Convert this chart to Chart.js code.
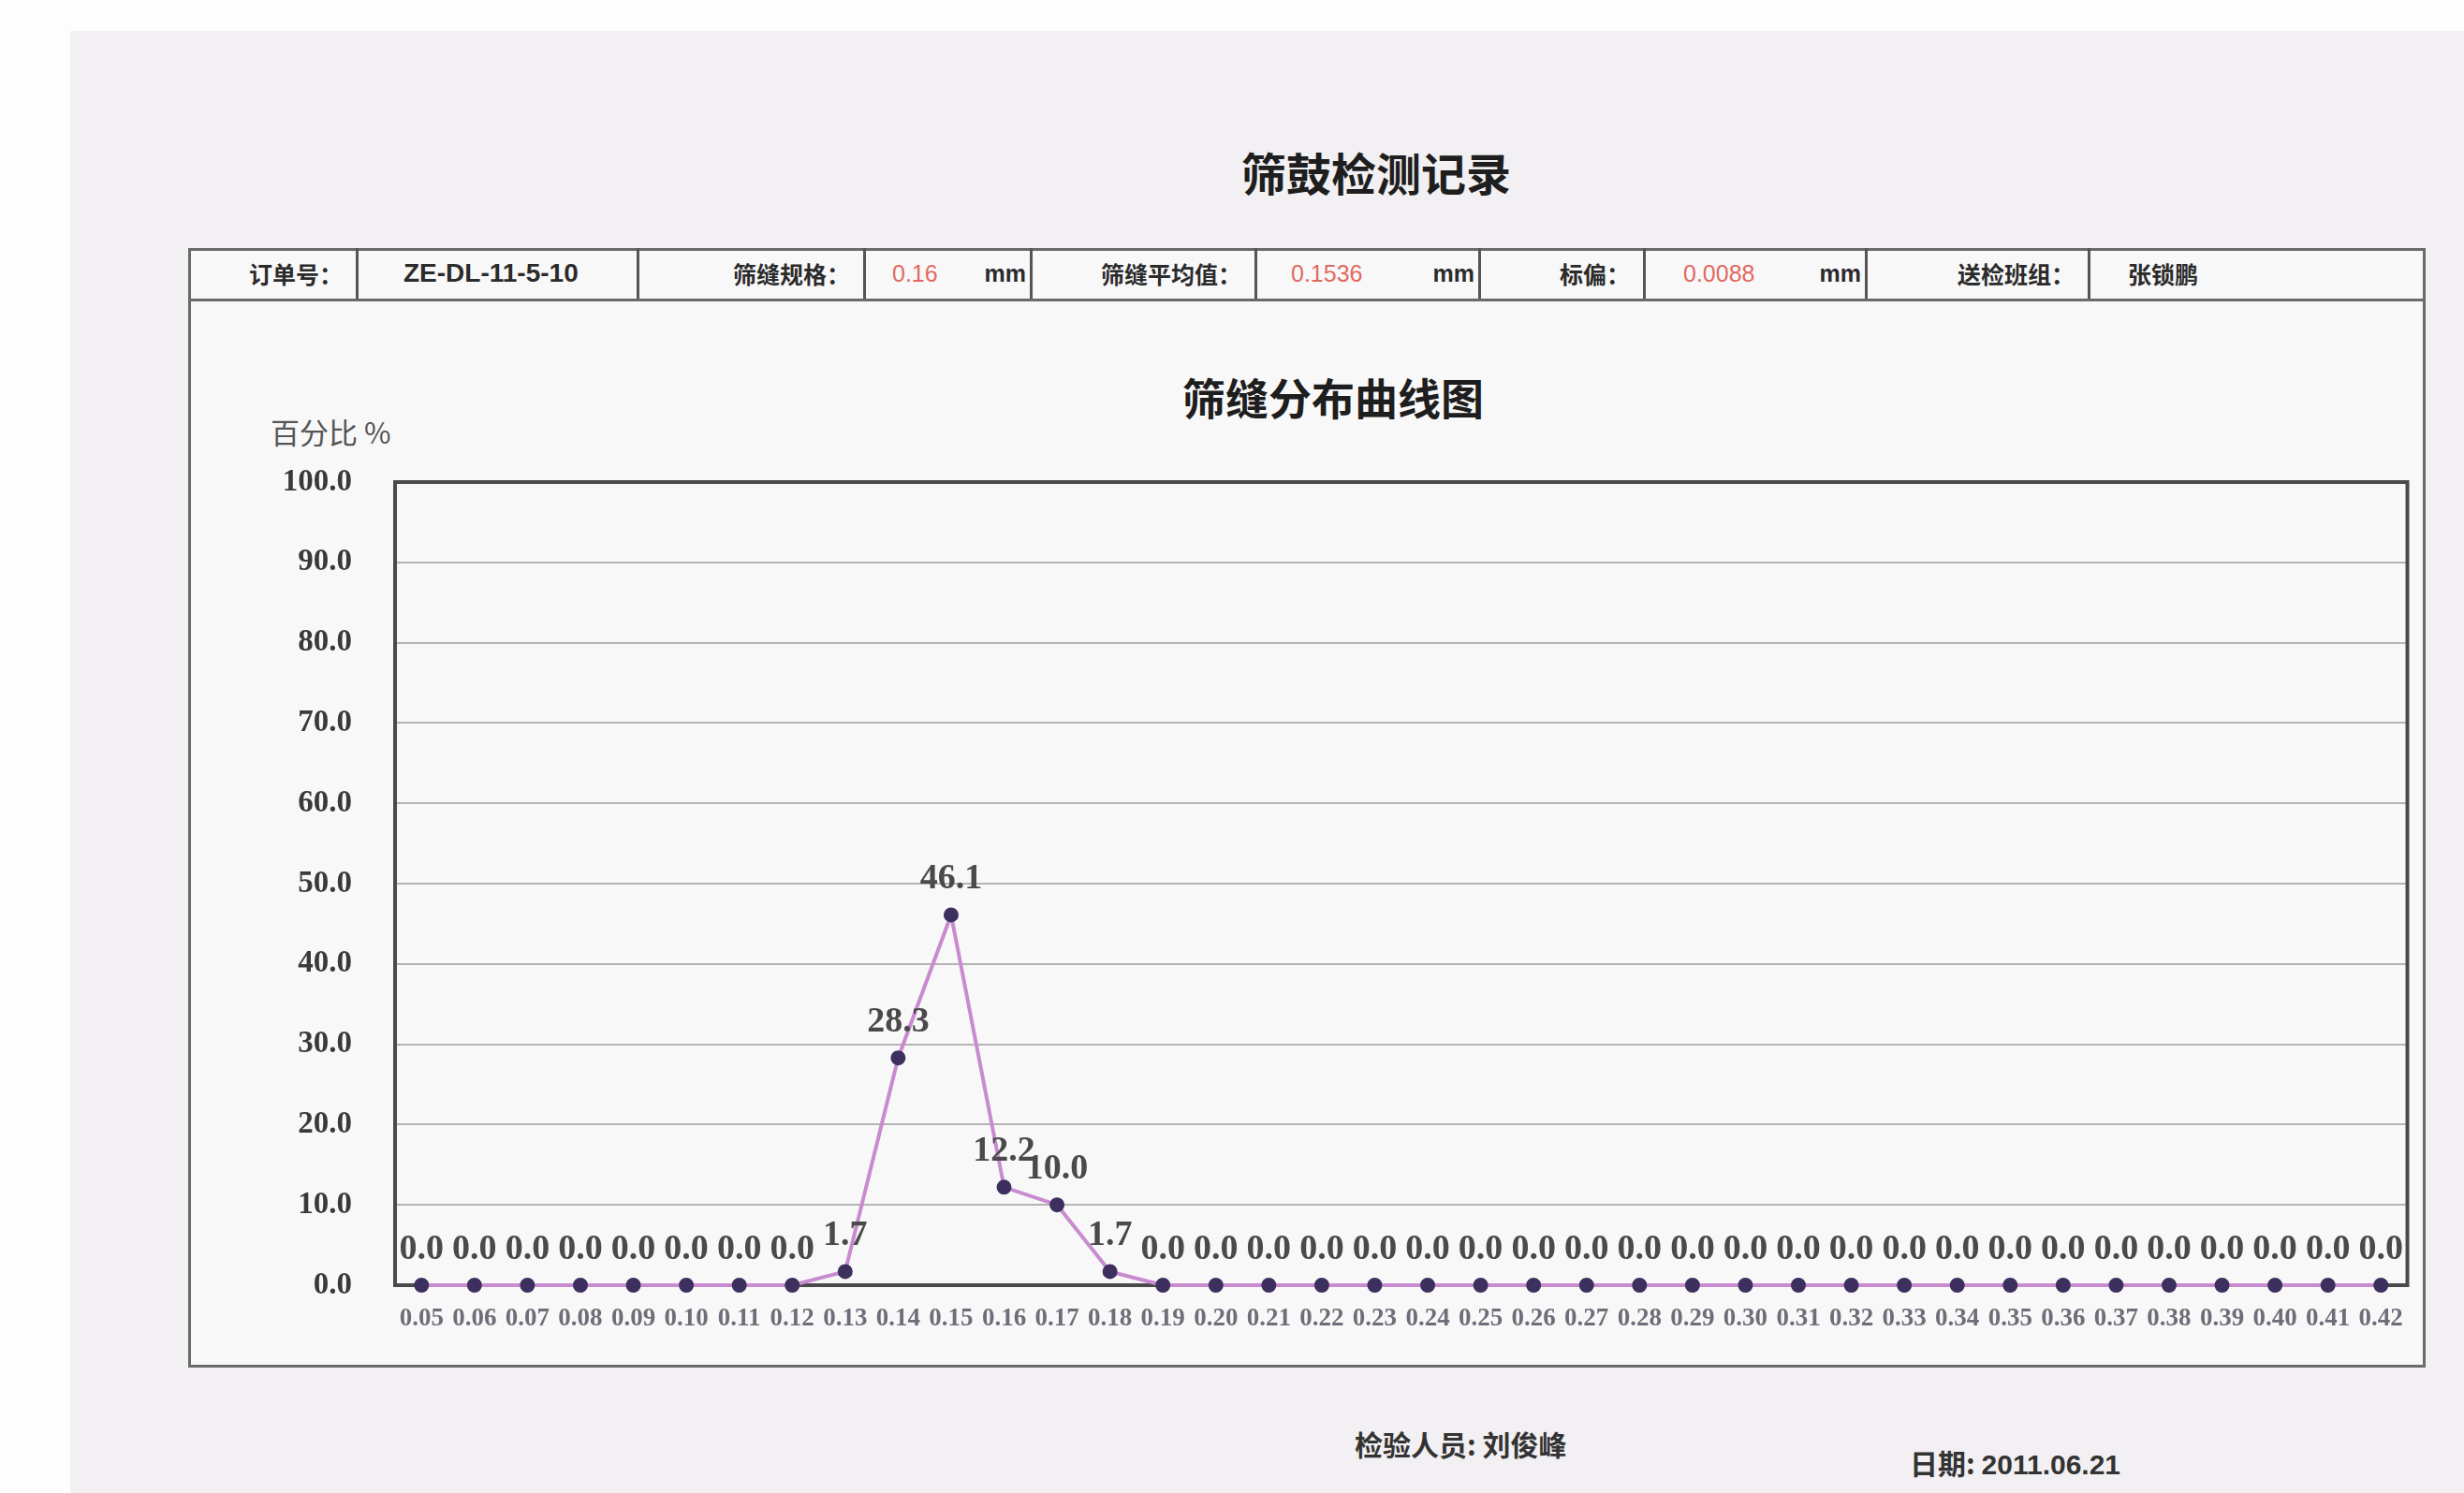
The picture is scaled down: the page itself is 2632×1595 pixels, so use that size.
<!DOCTYPE html>
<html>
<head>
<meta charset="utf-8">
<script src="https://cdn.jsdelivr.net/npm/chart.js@4.4.1/dist/chart.umd.min.js"></script>
<style>
  html, body { margin:0; padding:0; width:2632px; height:1595px; overflow:hidden; background:#fdfdfd; }
  #paper { position:absolute; left:75px; top:33px; width:2557px; height:1562px; background:#f2f0f2; }
  .t { position:absolute; white-space:nowrap; font-family:"Noto Sans CJK SC", sans-serif; color:#1e1e1e; }
  #frame { position:absolute; left:201px; top:265px; width:2384px; height:1190px; border:3px solid #6a6a6a; background:#f9f8f9; }
  #hdr { position:absolute; left:201px; top:265px; width:2390px; height:54px; display:flex; border-bottom:3px solid #6a6a6a; }
  .c { position:relative; height:54px; border-right:3px solid #555; box-sizing:border-box; font-family:"Noto Sans CJK SC", sans-serif; font-weight:700; font-size:25px; color:#2b2b2b; line-height:54px; white-space:nowrap; }
  .c:last-child { border-right:none; }
  .r { text-align:right; padding-right:14px; }
  .red { color:#e06a60; font-weight:400; font-family:"Liberation Sans", sans-serif; position:absolute; }
  .mm { position:absolute; right:4px; font-family:"Liberation Sans", sans-serif; }
  canvas { position:absolute; left:205px; top:322px; }
</style>
</head>
<body>
<div id="paper"></div>
<div class="t" style="left:1326px; top:148px; font-size:48px; font-weight:700;">筛鼓检测记录</div>
<div id="frame"></div>
<div id="hdr">
  <div class="c r" style="width:182px;">订单号：</div>
  <div class="c" style="width:300px; padding-left:48px; font-family:'Liberation Sans',sans-serif; font-size:28px;">ZE-DL-11-5-10</div>
  <div class="c r" style="width:242px;">筛缝规格：</div>
  <div class="c" style="width:178px;"><span class="red" style="left:28px;">0.16</span><span class="mm">mm</span></div>
  <div class="c r" style="width:240px;">筛缝平均值：</div>
  <div class="c" style="width:239px;"><span class="red" style="left:36px;">0.1536</span><span class="mm">mm</span></div>
  <div class="c r" style="width:176px;">标偏：</div>
  <div class="c" style="width:237px;"><span class="red" style="left:40px;">0.0088</span><span class="mm">mm</span></div>
  <div class="c r" style="width:238px;">送检班组：</div>
  <div class="c" style="width:358px; padding-left:40px;">张锁鹏</div>
</div>
<div class="t" style="left:1263px; top:390px; font-size:46px; font-weight:700;">筛缝分布曲线图</div>
<div class="t" style="left:289px; top:438px; font-size:31px; color:#555;">百分比 %</div>
<canvas id="c" width="2382" height="1135"></canvas>
<div class="t" style="left:1447px; top:1520px; font-size:30px; font-weight:700; color:#333;">检验人员: 刘俊峰</div>
<div class="t" style="left:2040px; top:1540px; font-size:30px; font-weight:700; color:#333;">日期: <span style="font-family:'Liberation Sans',sans-serif;">2011.06.21</span></div>
<script>
const sizeLabels = ['0.05','0.06','0.07','0.08','0.09','0.10','0.11','0.12','0.13','0.14',
  '0.15','0.16','0.17','0.18','0.19','0.20','0.21','0.22','0.23','0.24',
  '0.25','0.26','0.27','0.28','0.29','0.30','0.31','0.32','0.33','0.34',
  '0.35','0.36','0.37','0.38','0.39','0.40','0.41','0.42'];
const percentValues = [0,0,0,0,0,0,0,0,1.7,28.3,
  46.1,12.2,10.0,1.7,0,0,0,0,0,0,
  0,0,0,0,0,0,0,0,0,0,
  0,0,0,0,0,0,0,0];
const yTickValues = [0,10,20,30,40,50,60,70,80,90,100];

const frameBorder = {
  id:'frameBorder',
  beforeDatasetsDraw(chart){
    const a = chart.chartArea, ctx = chart.ctx;
    ctx.save();
    ctx.strokeStyle = '#4a4a4a';
    ctx.lineWidth = 4;
    ctx.strokeRect(a.left, a.top, a.right - a.left, a.bottom - a.top);
    ctx.restore();
  }
};
const valueLabels = {
  id:'valueLabels',
  afterDatasetsDraw(chart){
    const ctx = chart.ctx;
    const meta = chart.getDatasetMeta(0);
    ctx.save();
    ctx.font = 'bold 38px "Liberation Serif", serif';
    ctx.fillStyle = '#4a4a4a';
    ctx.textAlign = 'center';
    ctx.textBaseline = 'middle';
    meta.data.forEach((pt, i) => {
      ctx.fillText(percentValues[i].toFixed(1), pt.x, pt.y - 38);
    });
    ctx.restore();
  }
};

new Chart(document.getElementById('c'), {
  type:'line',
  data:{
    labels:sizeLabels,
    datasets:[{
      data:percentValues,
      borderColor:'#c98bd0',
      borderWidth:4,
      pointRadius:6,
      pointBackgroundColor:'#3d2f5e',
      pointBorderColor:'#3d2f5e',
      tension:0,
      clip:false
    }]
  },
  options:{
    responsive:false,
    animation:false,
    devicePixelRatio:1,
    layout:{ padding:{ top:193, right:10, left:0, bottom:0 } },
    plugins:{ legend:{display:false}, title:{display:false}, tooltip:{enabled:false} },
    scales:{
      x:{
        offset:true,
        grid:{ display:false, drawTicks:false },
        border:{ display:false },
        ticks:{ autoSkip:false, maxRotation:0, minRotation:0, padding:20,
          color:'#6e6e78', font:{ family:'"Liberation Serif", serif', size:27, weight:'bold' } },
        afterFit(s){ s.height = 84; }
      },
      y:{
        min:0, max:100,
        afterBuildTicks(s){ s.ticks = yTickValues.map(v => ({value:v})); },
        grid:{ color:'#b5b3b5', lineWidth:2, drawTicks:false },
        border:{ display:false },
        ticks:{ padding:46, color:'#3a3a3a',
          font:{ family:'"Liberation Serif", serif', size:33, weight:'bold' },
          callback:v => Number(v).toFixed(1) },
        afterFit(s){ s.width = 217; }
      }
    }
  },
  plugins:[frameBorder, valueLabels]
});
</script>
</body>
</html>
